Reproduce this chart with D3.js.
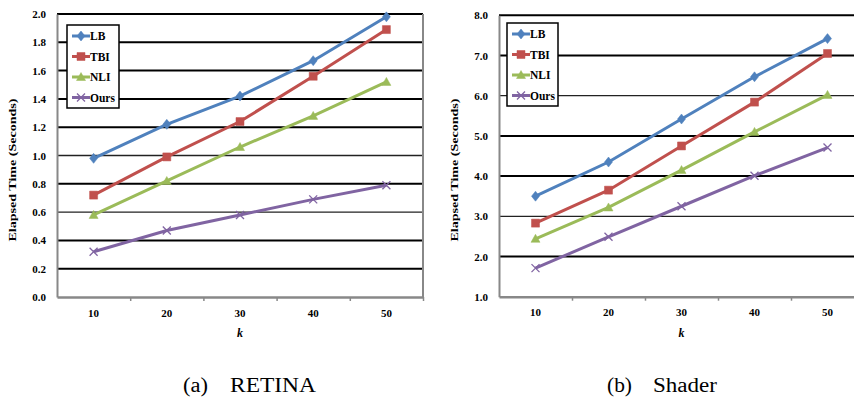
<!DOCTYPE html>
<html>
<head>
<meta charset="utf-8">
<script src="https://cdn.jsdelivr.net/npm/d3@7"></script>
<style>
  body { margin: 0; background: #fff; }
  svg { display: block; }
  svg text { font-family: "Liberation Serif", "DejaVu Serif", serif !important; }
</style>
</head>
<body>
<div id="VizBox"></div>
<script>
// data
var categories = [10, 20, 30, 40, 50];
var seriesNames = ["LB", "TBI", "NLI", "Ours"];

var retinaLB   = [0.98, 1.22, 1.42, 1.67, 1.98];
var retinaTBI  = [0.72, 0.99, 1.24, 1.56, 1.89];
var retinaNLI  = [0.58, 0.82, 1.06, 1.28, 1.52];
var retinaOurs = [0.32, 0.47, 0.58, 0.69, 0.79];
var retinaTicks = [0.0, 0.2, 0.4, 0.6, 0.8, 1.0, 1.2, 1.4, 1.6, 1.8, 2.0];

var shaderLB   = [3.50, 4.35, 5.42, 6.47, 7.42];
var shaderTBI  = [2.83, 3.65, 4.75, 5.84, 7.05];
var shaderNLI  = [2.44, 3.22, 4.15, 5.10, 6.02];
var shaderOurs = [1.71, 2.49, 3.25, 4.01, 4.71];
var shaderTicks = [1.0, 2.0, 3.0, 4.0, 5.0, 6.0, 7.0, 8.0];

var colors = ["#4F81BD", "#C0504D", "#9BBB59", "#8064A2"];
var markers = ["diamond", "square", "triangle", "x"];

var W = 854, H = 401;
var svg = d3.select("#VizBox").append("svg")
    .attr("width", W)
    .attr("height", H);

function markerPath(type) {
  if (type == "diamond") return "M0,-5L4,0L0,5L-4,0Z";
  if (type == "square") return "M-4,-4H4V4H-4Z";
  if (type == "triangle") return "M0,-4.5L4.5,3.5H-4.5Z";
  return "M-4,-4L4,4M-4,4L4,-4";
}

function drawPanel(opt) {
  var g = svg.append("g");

  var x = d3.scaleBand().domain(categories).range([opt.left, opt.right]);
  var xEdge = d3.scaleLinear().domain([0, categories.length]).range([opt.left, opt.right]);
  var y = d3.scaleLinear().domain(opt.domain).range([opt.bottom, opt.top]);

  // grid lines
  g.selectAll(".grid")
    .data(opt.ticks.slice(1))
    .enter().append("line")
      .attr("x1", opt.left).attr("x2", opt.right)
      .attr("y1", function(d) { return y(d); })
      .attr("y2", function(d) { return y(d); })
      .attr("stroke", function(d) { return opt.thin.indexOf(d) >= 0 ? "#222" : "#000"; })
      .attr("stroke-width", function(d) { return opt.thin.indexOf(d) >= 0 ? 1.3 : 2; });

  // right border
  g.append("line")
    .attr("x1", opt.right).attr("x2", opt.right)
    .attr("y1", opt.top).attr("y2", opt.bottom)
    .attr("stroke", "#888").attr("stroke-width", 2);

  // y axis
  var yAxis = g.append("g")
    .attr("transform", "translate(" + opt.left + ",0)")
    .call(d3.axisLeft(y).tickValues(opt.ticks).tickFormat(d3.format(".1f")).tickSize(0).tickPadding(11));
  yAxis.select(".domain").attr("stroke", "#888").attr("stroke-width", 2);
  yAxis.selectAll("text")
    .attr("font-size", 11).attr("font-weight", "bold").attr("fill", "#000");

  // x axis: tick marks at band edges
  var xTicks = g.append("g")
    .attr("transform", "translate(0," + opt.bottom + ")")
    .call(d3.axisBottom(xEdge).tickValues([1, 2, 3, 4, 5]).tickFormat("").tickSizeInner(4).tickSizeOuter(0));
  xTicks.select(".domain").attr("stroke", "#888").attr("stroke-width", 2.5);
  xTicks.selectAll("line").attr("stroke", "#888").attr("stroke-width", 1.5);

  // x labels centred in bands
  var xLab = g.append("g")
    .attr("transform", "translate(0," + opt.bottom + ")")
    .call(d3.axisBottom(x).tickSize(0).tickPadding(12));
  xLab.select(".domain").remove();
  xLab.selectAll("text")
    .attr("font-size", 11).attr("font-weight", "bold").attr("fill", "#000");

  g.append("text")
    .attr("x", x(30) + x.bandwidth() / 2)
    .attr("y", opt.bottom + 40)
    .attr("text-anchor", "middle")
    .attr("font-size", 12).attr("font-weight", "bold").attr("font-style", "italic")
    .text("k");

  g.append("text")
    .attr("transform", "translate(" + opt.titleX + "," + opt.titleY + ") rotate(-90)")
    .attr("text-anchor", "middle")
    .attr("font-size", 11).attr("font-weight", "bold")
    .attr("textLength", 143).attr("lengthAdjust", "spacingAndGlyphs")
    .text("Elapsed Time (Seconds)");

  // lines and markers
  var line = d3.line()
    .x(function(d, i) { return x(categories[i]) + x.bandwidth() / 2; })
    .y(function(d) { return y(d); });

  opt.series.forEach(function(vals, s) {
    g.append("path")
      .attr("d", line(vals))
      .attr("fill", "none")
      .attr("stroke", colors[s])
      .attr("stroke-width", 3);
    g.selectAll(".m" + s)
      .data(vals)
      .enter().append("path")
        .attr("transform", function(d, i) {
          return "translate(" + (x(categories[i]) + x.bandwidth() / 2) + "," + y(d) + ")";
        })
        .attr("d", markerPath(markers[s]))
        .attr("fill", markers[s] == "x" ? "none" : colors[s])
        .attr("stroke", colors[s])
        .attr("stroke-width", markers[s] == "x" ? 1.3 : 0.5);
  });

  // legend
  var lg = g.append("g").attr("transform", "translate(" + opt.legX + "," + opt.legY + ")");
  lg.append("rect")
    .attr("width", opt.legW).attr("height", 83)
    .attr("fill", "#fff").attr("stroke", "#000").attr("stroke-width", 1.5);
  seriesNames.forEach(function(name, s) {
    var ly = 11 + s * 20.5;
    lg.append("line")
      .attr("x1", 5).attr("x2", 23).attr("y1", ly).attr("y2", ly)
      .attr("stroke", colors[s]).attr("stroke-width", 3);
    lg.append("path")
      .attr("transform", "translate(14," + ly + ")")
      .attr("d", markerPath(markers[s]))
      .attr("fill", markers[s] == "x" ? "none" : colors[s])
      .attr("stroke", colors[s])
      .attr("stroke-width", markers[s] == "x" ? 1.3 : 0.5);
    lg.append("text")
      .attr("x", 23).attr("y", ly + 4)
      .attr("font-size", 11.5).attr("font-weight", "bold")
      .text(name);
  });
}

drawPanel({
  left: 57, right: 423, top: 14, bottom: 297,
  domain: [0, 2], ticks: retinaTicks, thin: [1.0, 0.6],
  series: [retinaLB, retinaTBI, retinaNLI, retinaOurs],
  titleX: 16, titleY: 170,
  legX: 67, legY: 25, legW: 52
});

drawPanel({
  left: 499, right: 864, top: 15.3, bottom: 296.7,
  domain: [1, 8], ticks: shaderTicks, thin: [6.0, 3.0],
  series: [shaderLB, shaderTBI, shaderNLI, shaderOurs],
  titleX: 458, titleY: 170,
  legX: 507, legY: 23, legW: 51
});

// captions
var captions = [
  {label: "(a)", name: "RETINA", x: 183, x2: 230, w: 86},
  {label: "(b)", name: "Shader", x: 607, x2: 653, w: 64}
];
captions.forEach(function(c) {
  svg.append("text").attr("x", c.x).attr("y", 392).attr("font-size", 20)
    .attr("textLength", 25).attr("lengthAdjust", "spacingAndGlyphs").text(c.label);
  svg.append("text").attr("x", c.x2).attr("y", 392).attr("font-size", 20)
    .attr("textLength", c.w).attr("lengthAdjust", "spacingAndGlyphs").text(c.name);
});
</script>
</body>
</html>
